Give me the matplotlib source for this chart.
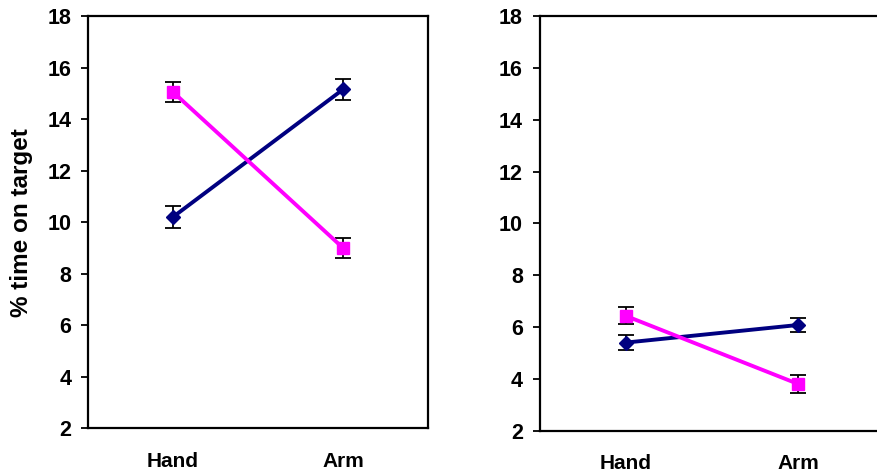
import matplotlib.pyplot as plt
import numpy as np

# Data
conditions = ['Hand', 'Arm']

left_blue = [10.2, 15.15]
left_blue_err = [0.43, 0.42]
left_pink = [15.05, 9.0]
left_pink_err = [0.4, 0.39]

right_blue = [5.4, 6.08]
right_blue_err = [0.28, 0.27]
right_pink = [6.43, 3.8]
right_pink_err = [0.33, 0.34]

navy = '#000080'
magenta = '#FF00FF'

plt.rcParams['font.family'] = ['Liberation Sans', 'DejaVu Sans']
plt.rcParams['font.weight'] = 'bold'

fig = plt.figure(figsize=(8.78, 4.73), dpi=100)
ax1 = fig.add_axes([0.1002, 0.0945, 0.3873, 0.8717])
ax2 = fig.add_axes([0.6145, 0.0894, 0.393, 0.8768])

x = np.arange(len(conditions))


def draw(ax, blue, blue_err, pink, pink_err):
    ax.errorbar(x, blue, yerr=blue_err, color=navy, lw=2.8, marker='D',
                markersize=7, ecolor='black', elinewidth=1.3, capsize=6,
                capthick=1.3, zorder=3)
    ax.errorbar(x, pink, yerr=pink_err, color=magenta, lw=2.8, marker='s',
                markersize=8.5, ecolor='black', elinewidth=1.3, capsize=6,
                capthick=1.3, zorder=3)
    ax.set_xlim(-0.5, 1.5)
    ax.set_ylim(2, 18)
    ax.set_yticks(range(2, 19, 2))
    ax.set_xticks(x)
    ax.set_xticklabels(conditions, fontsize=15, fontweight='bold')
    ax.tick_params(axis='y', labelsize=15.5, length=5, width=1.3, pad=7)
    ax.tick_params(axis='x', length=0, pad=17)
    for s in ax.spines.values():
        s.set_linewidth(1.6)


draw(ax1, left_blue, left_blue_err, left_pink, left_pink_err)
draw(ax2, right_blue, right_blue_err, right_pink, right_pink_err)

ax1.set_ylabel('% time on target', fontsize=17.5, fontweight='bold', labelpad=10)

plt.savefig('out.png', dpi=100)
